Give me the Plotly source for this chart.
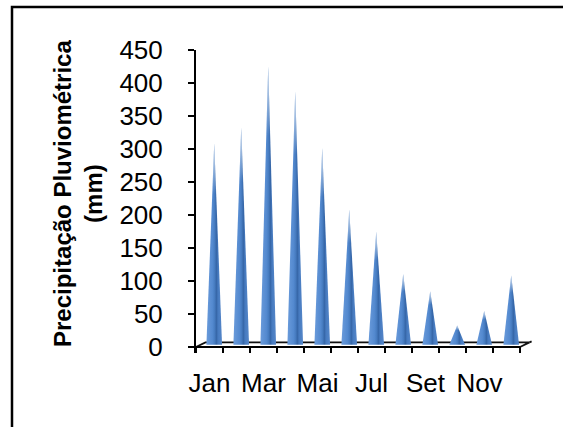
import plotly.graph_objects as go

# Monthly rainfall (mm)
months = ["Jan", "Fev", "Mar", "Abr", "Mai", "Jun", "Jul", "Ago", "Set", "Out", "Nov", "Dez"]
precip_mm = [305, 329, 422, 384, 298, 205, 171, 107, 81, 29, 51, 105]
y_ticks = [0, 50, 100, 150, 200, 250, 300, 350, 400, 450]

# Canvas and plot-area geometry (pixels)
W, H = 563, 427
PLOT_L, PLOT_R, PLOT_T, PLOT_B = 196, 532, 50, 353
BAND_PX = 27.0            # width of one month slot
ZERO_PX = 347             # pixel row of the value 0
PX_PER_MM = (ZERO_PX - PLOT_T) / 450.0

X_MIN = -0.5
X_MAX = X_MIN + (PLOT_R - PLOT_L) / BAND_PX
Y_MIN = -(PLOT_B - ZERO_PX) / PX_PER_MM
Y_MAX = 450

# pseudo-3D floor depth and cone size
DEPTH_X = 0.35
DEPTH_Y = 7.0
HALF_BASE = 0.29

FONT = "Liberation Sans, Arial, sans-serif"
TICK_SIZE = 26

fig = go.Figure()

n = len(months)
left_edge, right_edge = -0.5, n - 0.5

# floor outline: back edge, side edges, front edge
fig.add_trace(go.Scatter(
    x=[left_edge, left_edge + DEPTH_X, right_edge + DEPTH_X, right_edge, None,
       right_edge + DEPTH_X, right_edge + DEPTH_X + 0.08],
    y=[0, DEPTH_Y, DEPTH_Y, 0, None, DEPTH_Y, DEPTH_Y + 1.5],
    mode="lines", line=dict(color="#111111", width=1.8),
    hoverinfo="skip", showlegend=False))
fig.add_trace(go.Scatter(
    x=[left_edge, right_edge], y=[0, 0],
    mode="lines", line=dict(color="#000000", width=2.2),
    hoverinfo="skip", showlegend=False))

# x tick marks at the month boundaries
tx, ty = [], []
for k in range(n + 1):
    b = k - 0.5
    tx += [b, b, None]
    ty += [0, Y_MIN, None]
fig.add_trace(go.Scatter(
    x=tx, y=ty, mode="lines", line=dict(color="#000000", width=2),
    hoverinfo="skip", showlegend=False))

# cones: horizontal shading plus a pale highlight toward the tip
cone_scale = [
    [0.0, "#6a9bdb"],
    [0.40, "#5389cf"],
    [0.55, "#4479bd"],
    [0.63, "#3565a6"],
    [0.75, "#477bc0"],
    [1.0, "#5687c9"],
]
fade_scale = [
    [0.0, "rgba(255,255,255,0)"],
    [0.75, "rgba(255,255,255,0)"],
    [1.0, "rgba(255,255,255,0.8)"],
]
for i, v in enumerate(precip_mm):
    cx = i + DEPTH_X / 2
    base = DEPTH_Y / 2
    xs = [cx - HALF_BASE, cx, cx + HALF_BASE, cx - HALF_BASE]
    ys = [base, v + base, base, base]
    fig.add_trace(go.Scatter(
        x=xs, y=ys, mode="lines", fill="toself",
        line=dict(width=0, color="rgba(0,0,0,0)"),
        fillgradient=dict(type="horizontal", colorscale=cone_scale),
        name=months[i], showlegend=False,
        hovertemplate=months[i] + ": %{y:.0f} mm<extra></extra>"))
    fig.add_trace(go.Scatter(
        x=xs, y=ys, mode="lines", fill="toself",
        line=dict(width=0, color="rgba(0,0,0,0)"),
        fillgradient=dict(type="vertical", colorscale=fade_scale),
        hoverinfo="skip", showlegend=False))

pw = PLOT_R - PLOT_L
ph = PLOT_B - PLOT_T


def px_x(p):
    return (p - PLOT_L) / pw


def px_y(p):
    return (PLOT_B - p) / ph


fig.update_layout(
    width=W, height=H,
    margin=dict(l=PLOT_L, r=W - PLOT_R, t=PLOT_T, b=H - PLOT_B, pad=0),
    paper_bgcolor="white", plot_bgcolor="white",
    font=dict(family=FONT, size=TICK_SIZE, color="#000000"),
    showlegend=False,
    xaxis=dict(
        range=[X_MIN, X_MAX], showgrid=False, zeroline=False, showline=False,
        tickmode="array", tickvals=list(range(0, n, 2)), ticktext=months[::2],
        ticks="", ticklabelstandoff=12,
        tickfont=dict(family=FONT, size=TICK_SIZE, color="#000000"),
    ),
    yaxis=dict(
        range=[Y_MIN, Y_MAX], showgrid=False, zeroline=False,
        showline=True, linecolor="#000000", linewidth=2,
        ticks="outside", ticklen=6, tickwidth=2, tickcolor="#000000",
        tickmode="array", tickvals=y_ticks, ticklabelstandoff=20,
        tickfont=dict(family=FONT, size=TICK_SIZE, color="#000000"),
    ),
    annotations=[dict(
        text="<b>Precipitação Pluviométrica</b><br><b>(mm)</b>",
        textangle=-90, xref="paper", yref="paper",
        x=px_x(78), y=px_y(194), xanchor="center", yanchor="middle",
        showarrow=False, font=dict(family=FONT, size=24, color="#000000"),
    )],
    shapes=[dict(
        type="rect", xref="paper", yref="paper",
        x0=px_x(12), x1=px_x(575), y0=px_y(440), y1=px_y(7),
        line=dict(color="#000000", width=2.5), fillcolor="rgba(0,0,0,0)",
        layer="above",
    )],
)

fig.write_html("out.html")
